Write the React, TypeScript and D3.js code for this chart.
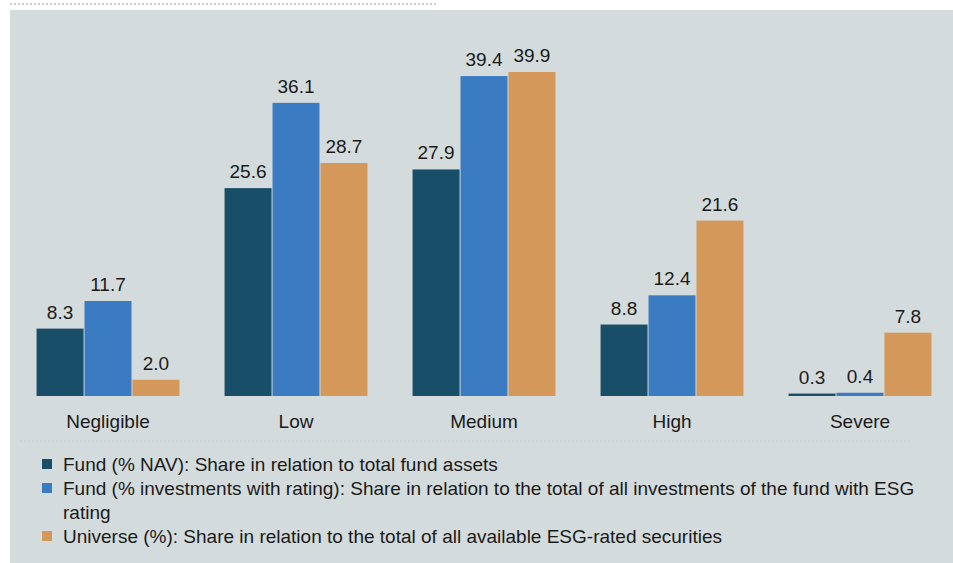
import React, { useRef, useEffect } from 'react';
import * as d3 from 'd3';

const categories = ['Negligible', 'Low', 'Medium', 'High', 'Severe'];
const seriesKeys = ['nav', 'rated', 'universe'];
const fundNav = [8.3, 25.6, 27.9, 8.8, 0.3];
const fundRated = [11.7, 36.1, 39.4, 12.4, 0.4];
const universe = [2.0, 28.7, 39.9, 21.6, 7.8];
const legendLabels = [
  'Fund (% NAV): Share in relation to total fund assets',
  'Fund (% investments with rating): Share in relation to the total of all investments of the fund with ESG',
  'rating',
  'Universe (%): Share in relation to the total of all available ESG-rated securities',
];
const colors = ['#184e68', '#3a7bc2', '#d4985b'];

const App = () => {
  const svgRef = useRef<SVGSVGElement | null>(null);

  useEffect(() => {
    const W = 953;
    const H = 563;
    const svg = d3.select(svgRef.current);
    svg.selectAll('*').remove();
    svg.attr('width', W).attr('height', H);

    const font = 'Liberation Sans, Arial, sans-serif';
    const fs = 19;

    // background panel
    svg.append('rect').attr('x', 10).attr('y', 10).attr('width', W - 10).attr('height', H - 10).attr('fill', '#d4dbdc');

    // dotted line at the very top
    svg
      .append('line')
      .attr('x1', 10)
      .attr('x2', 438)
      .attr('y1', 4)
      .attr('y2', 4)
      .attr('stroke', '#9aa0a2')
      .attr('stroke-width', 1)
      .attr('stroke-dasharray', '2,2');

    const series = [fundNav, fundRated, universe];

    const x0 = d3.scaleBand().domain(categories).range([14, 954]).paddingInner(0.24).paddingOuter(0.12);
    const x1 = d3.scaleBand().domain(seriesKeys).range([0, x0.bandwidth()]).paddingInner(0.02);
    const baseline = 396;
    const y = d3.scaleLinear().domain([0, 40]).range([baseline, baseline - 40 * 8.12]);

    const g = svg.append('g');
    categories.forEach((cat, ci) => {
      seriesKeys.forEach((key, si) => {
        const v = series[si][ci];
        const bx = (x0(cat) as number) + (x1(key) as number);
        const by = Math.min(y(v), baseline - 2);
        g.append('rect')
          .attr('x', bx)
          .attr('y', by)
          .attr('width', x1.bandwidth())
          .attr('height', baseline - by)
          .attr('fill', colors[si]);
        g.append('text')
          .attr('x', bx + x1.bandwidth() / 2)
          .attr('y', by - 10)
          .attr('text-anchor', 'middle')
          .attr('font-family', font)
          .attr('font-size', fs)
          .attr('fill', '#1a1a1a')
          .text(v.toFixed(1));
      });
      g.append('text')
        .attr('x', (x0(cat) as number) + x0.bandwidth() / 2)
        .attr('y', 428)
        .attr('text-anchor', 'middle')
        .attr('font-family', font)
        .attr('font-size', fs)
        .attr('fill', '#1a1a1a')
        .text(cat);
    });

    // faint dotted separator under the categories
    svg
      .append('line')
      .attr('x1', 20)
      .attr('x2', 912)
      .attr('y1', 441)
      .attr('y2', 441)
      .attr('stroke', '#c4cccd')
      .attr('stroke-width', 1)
      .attr('stroke-dasharray', '2,2');

    // legend
    const legendColorIdx = [0, 1, -1, 2];
    legendLabels.forEach((label, i) => {
      const ty = 471 + i * 24;
      const ci = legendColorIdx[i];
      if (ci >= 0) {
        svg
          .append('rect')
          .attr('x', 42)
          .attr('y', ty - 12)
          .attr('width', 10)
          .attr('height', 10)
          .attr('fill', colors[ci]);
      }
      svg
        .append('text')
        .attr('x', 63)
        .attr('y', ty)
        .attr('font-family', font)
        .attr('font-size', fs)
        .attr('fill', '#1a1a1a')
        .text(label);
    });
  }, []);

  return (
    <svg
      ref={svgRef}
      style={{ position: 'absolute', left: 0, top: 0, display: 'block' }}
    ></svg>
  );
};

export default App;
